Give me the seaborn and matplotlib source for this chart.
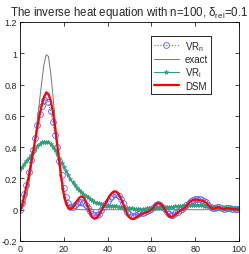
import matplotlib
matplotlib.use("Agg")
import matplotlib.pyplot as plt
from matplotlib.ticker import FuncFormatter
import numpy as np
import pandas as pd
import seaborn as sns

# Data (grid points 0..100)
x = np.arange(0, 101)

exact = [
    0.0, 0.01, 0.04, 0.09, 0.16, 0.25, 0.35, 0.46, 0.58, 0.70,
    0.82, 0.93, 0.99, 0.98, 0.88, 0.74, 0.58, 0.42, 0.28, 0.17,
    0.10, 0.06, 0.03, 0.015, 0.008, 0.004, 0.002, 0.001, 0.0, 0.0,
] + [0.0] * 71

vr_n = [
    0.0, 0.04, 0.10, 0.16, 0.24, 0.32, 0.38, 0.46, 0.54, 0.61,
    0.66, 0.70, 0.72, 0.69, 0.63, 0.56, 0.48, 0.40, 0.31, 0.22,
    0.14, 0.08, 0.04, 0.02, 0.02, 0.03, 0.04, 0.05, 0.05, 0.045,
    0.03, 0.01, -0.01, -0.03, -0.037, -0.035, -0.025, -0.005, 0.015, 0.035,
    0.055, 0.075, 0.09, 0.10, 0.10, 0.09, 0.07, 0.04, 0.01, -0.015,
    -0.03, -0.038, -0.038, -0.033, -0.027, -0.022, -0.018, -0.014, -0.01, -0.004,
    0.005, 0.018, 0.03, 0.035, 0.032, 0.02, 0.003, -0.015, -0.03, -0.036,
    -0.033, -0.024, -0.014, -0.005, 0.004, 0.015, 0.03, 0.045, 0.058, 0.065,
    0.068, 0.068, 0.066, 0.062, 0.056, 0.047, 0.033, 0.02, 0.01, 0.01,
    0.015, 0.016, 0.01, 0.005, 0.008, 0.01, 0.008, 0.005, 0.004, 0.003,
    0.002,
]

vr_i = [
    0.26, 0.275, 0.29, 0.31, 0.33, 0.35, 0.37, 0.39, 0.405, 0.42,
    0.43, 0.435, 0.435, 0.43, 0.42, 0.40, 0.38, 0.355, 0.33, 0.30,
    0.27, 0.245, 0.22, 0.195, 0.175, 0.155, 0.14, 0.125, 0.112, 0.10,
    0.09, 0.08, 0.07, 0.06, 0.052, 0.045, 0.04, 0.035, 0.031, 0.028,
    0.026, 0.024, 0.023, 0.022, 0.021, 0.02, 0.018, 0.016, 0.014, 0.012,
    0.01, 0.008, 0.007, 0.006, 0.006, 0.006, 0.006, 0.007, 0.008, 0.009,
    0.01, 0.011, 0.012, 0.013, 0.014, 0.015, 0.016, 0.017, 0.018, 0.019,
    0.02, 0.021, 0.022, 0.023, 0.024, 0.025, 0.026, 0.027, 0.028, 0.029,
    0.03, 0.03, 0.029, 0.028, 0.026, 0.024, 0.022, 0.02, 0.018, 0.016,
    0.014, 0.013, 0.012, 0.011, 0.01, 0.01, 0.01, 0.01, 0.01, 0.01,
    0.01,
]

dsm = [
    -0.02, 0.03, 0.09, 0.15, 0.21, 0.29, 0.37, 0.45, 0.53, 0.61,
    0.67, 0.72, 0.75, 0.74, 0.70, 0.63, 0.53, 0.42, 0.30, 0.19,
    0.10, 0.04, 0.012, 0.005, 0.012, 0.03, 0.055, 0.075, 0.085, 0.08,
    0.055, 0.02, -0.02, -0.048, -0.058, -0.052, -0.035, -0.01, 0.015, 0.04,
    0.065, 0.09, 0.108, 0.118, 0.115, 0.10, 0.075, 0.04, 0.005, -0.03,
    -0.05, -0.058, -0.058, -0.05, -0.04, -0.03, -0.025, -0.02, -0.015, -0.01,
    0.0, 0.015, 0.035, 0.043, 0.04, 0.025, 0.005, -0.02, -0.04, -0.047,
    -0.042, -0.03, -0.018, -0.008, 0.0, 0.01, 0.025, 0.042, 0.055, 0.062,
    0.064, 0.064, 0.062, 0.058, 0.053, 0.045, 0.03, 0.015, 0.005, 0.008,
    0.015, 0.016, 0.008, 0.002, 0.008, 0.01, 0.006, 0.004, 0.004, 0.002,
    0.0,
]

df = pd.DataFrame({"x": x, "exact": exact, "vr_n": vr_n, "vr_i": vr_i, "dsm": dsm})

sns.set_style("ticks")
plt.rcParams["font.family"] = ["Liberation Sans", "DejaVu Sans"]
plt.rcParams["axes.unicode_minus"] = False
plt.rcParams["mathtext.fontset"] = "custom"
plt.rcParams["mathtext.rm"] = "Liberation Sans"
plt.rcParams["mathtext.it"] = "Liberation Sans"

fig = plt.figure(figsize=(2.49, 2.55), dpi=100)
ax = fig.add_axes([0.080, 0.051, 0.880, 0.859])

sns.lineplot(data=df, x="x", y="vr_n", ax=ax, color="#5566ff", linestyle=":",
             linewidth=0.8, marker="o", markersize=4.2, markerfacecolor="none",
             markeredgecolor="#5566ff", markeredgewidth=0.6, label="VR$_n$")
sns.lineplot(data=df, x="x", y="exact", ax=ax, color="#777777", linewidth=0.7,
             label="exact")
sns.lineplot(data=df, x="x", y="vr_i", ax=ax, color="#2f9e7a", linewidth=0.8,
             marker="*", markersize=3.5, markeredgecolor="#2f9e7a",
             markeredgewidth=0.4, label="VR$_i$")
sns.lineplot(data=df, x="x", y="dsm", ax=ax, color="#ff0000", linewidth=1.6,
             label="DSM")

ax.set_xlim(0, 100)
ax.set_ylim(-0.2, 1.2)
ax.set_xticks([0, 20, 40, 60, 80, 100])
ax.set_yticks([-0.2, 0, 0.2, 0.4, 0.6, 0.8, 1.0, 1.2])
ax.yaxis.set_major_formatter(FuncFormatter(lambda v, p: "%g" % round(v, 2)))
ax.tick_params(direction="in", length=3, width=0.6, labelsize=6.5, pad=2,
               top=True, right=True)
for s in ax.spines.values():
    s.set_linewidth(0.6)
    s.set_color("black")
ax.set_xlabel("")
ax.set_ylabel("")

ax.set_title("The inverse heat equation with n=100, $\\delta_{rel}$=0.1",
             fontsize=8.3, pad=5)

leg = ax.legend(loc="upper right", bbox_to_anchor=(0.872, 0.936), borderaxespad=0,
                fontsize=7, handlelength=2.6, handletextpad=0.6, labelspacing=0.15,
                borderpad=0.3, fancybox=False, framealpha=1, numpoints=1)
leg.get_frame().set_edgecolor("black")
leg.get_frame().set_linewidth(0.6)

fig.savefig("out.png", dpi=100)
